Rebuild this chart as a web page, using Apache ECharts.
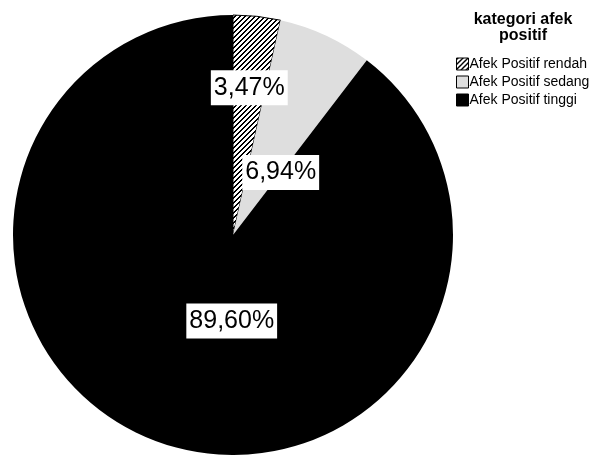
<!DOCTYPE html>
<html>
<head>
<meta charset="utf-8">
<script src="https://cdn.jsdelivr.net/npm/echarts@6/dist/echarts.min.js"></script>
<style>
  html, body { margin: 0; padding: 0; background: #fff; }
  #chart { width: 592px; height: 455px; }
</style>
</head>
<body>
<div id="chart"></div>
<script>
// Frequency of each positive-affect category (n = 173)
const categories = ['Afek Positif rendah', 'Afek Positif sedang', 'Afek Positif tinggi'];
const counts = [6, 12, 155];
const legendTitle = 'kategori afek\npositif';

// Label nudges (dx, dy) relative to the default inside-label anchor
const labelNudge = [[4, -35], [0, 40], [35, -21]];

// Diagonal hatch tile ("/" lines) for the low category
function hatchTile() {
  const size = 5;
  const c = document.createElement('canvas');
  c.width = size; c.height = size;
  const ctx = c.getContext('2d');
  const img = ctx.createImageData(size, size);
  for (let y = 0; y < size; y++) {
    for (let x = 0; x < size; x++) {
      const on = ((x + y) % size) < 2;
      const v = on ? 0 : 255;
      const i = (y * size + x) * 4;
      img.data[i] = v; img.data[i + 1] = v; img.data[i + 2] = v; img.data[i + 3] = 255;
    }
  }
  ctx.putImageData(img, 0, 0);
  return c;
}

const fills = [
  { image: hatchTile(), repeat: 'repeat' },
  '#dedede',
  '#000000'
];
const borders = [
  { borderColor: '#000', borderWidth: 1 },
  { borderColor: '#dedede', borderWidth: 0 },
  { borderColor: '#000', borderWidth: 0 }
];

const total = counts.reduce((a, b) => a + b, 0);
const fontFamily = '"Liberation Sans", Arial, sans-serif';

const chart = echarts.init(document.getElementById('chart'), null, { renderer: 'canvas' });

chart.setOption({
  backgroundColor: '#ffffff',
  animation: false,
  title: {
    text: legendTitle,
    left: 523,
    top: 12,
    textAlign: 'center',
    padding: 0,
    textStyle: {
      fontFamily: fontFamily,
      fontSize: 16,
      fontWeight: 'bold',
      color: '#000',
      lineHeight: 16
    }
  },
  legend: {
    orient: 'vertical',
    left: 456,
    top: 57,
    itemWidth: 12,
    itemHeight: 12,
    itemGap: 4,
    padding: 0,
    icon: 'rect',
    selectedMode: false,
    data: categories,
    itemStyle: { borderColor: '#000', borderWidth: 1 },
    textStyle: { fontFamily: fontFamily, fontSize: 14, lineHeight: 14, color: '#000', padding: [0, 0, 0, -4] }
  },
  series: [{
    type: 'pie',
    center: [233, 235],
    radius: 220,
    startAngle: 90,
    clockwise: true,
    silent: true,
    emphasis: { disabled: true },
    label: {
      show: true,
      position: 'inside',
      fontFamily: fontFamily,
      fontSize: 25,
      lineHeight: 29,
      color: '#000',
      backgroundColor: '#fff',
      padding: [3, 3, 3, 3],
      formatter: p => (p.value / total * 100).toFixed(2).replace('.', ',') + '%'
    },
    labelLayout: p => ({ dx: labelNudge[p.dataIndex][0], dy: labelNudge[p.dataIndex][1] }),
    labelLine: { show: false },
    data: categories.map((name, i) => ({
      name: name,
      value: counts[i],
      itemStyle: Object.assign({ color: fills[i] }, borders[i])
    }))
  }]
});
</script>
</body>
</html>
